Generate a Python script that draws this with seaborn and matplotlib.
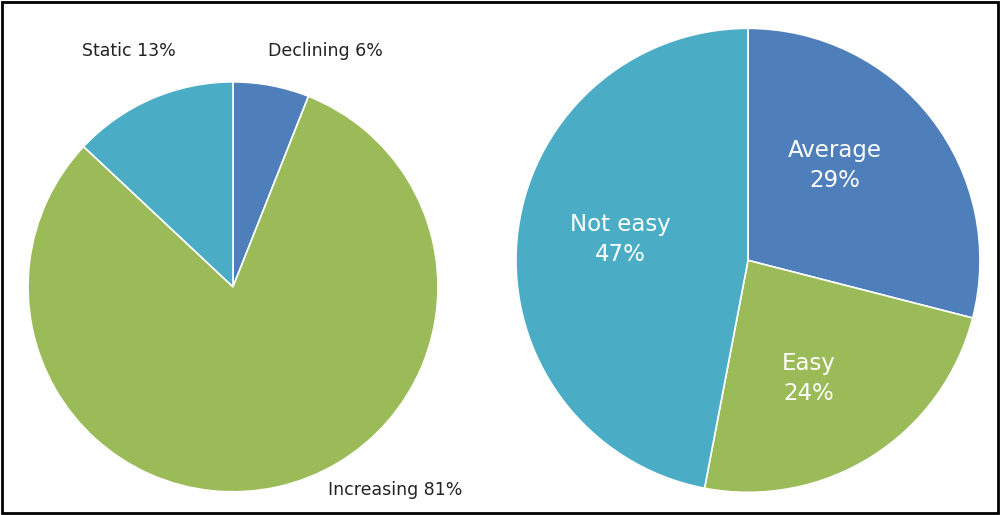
import matplotlib
matplotlib.use("Agg")
import matplotlib.pyplot as plt
import seaborn as sns

# left pie: trend
trend_labels = ["Declining", "Increasing", "Static"]
trend_values = [6, 81, 13]
# right pie: ease
ease_labels = ["Average", "Easy", "Not easy"]
ease_values = [29, 24, 47]

sns.set_theme(style="white")
colors = sns.color_palette(["#4F7FBA", "#9BBB59", "#4BACC6"])

fig = plt.figure(figsize=(10, 5.15), dpi=100)
fig.patches.append(plt.Rectangle((0.002, 0.003), 0.996, 0.994, transform=fig.transFigure,
                                 fill=False, edgecolor="black", linewidth=2))

ax1 = fig.add_axes([0.028, 0.045, 0.41, 0.796])
ax1.pie(trend_values, colors=colors, startangle=90, counterclock=False, radius=1,
        wedgeprops=dict(edgecolor="white", linewidth=1.2))
ax1.set_xlim(-1, 1)
ax1.set_ylim(-1, 1)
ax1.set_aspect("equal")
left_pos = [(0.45, 1.15), (0.79, -0.99), (-0.51, 1.15)]
for (x, y), lab, v in zip(left_pos, trend_labels, trend_values):
    ax1.text(x, y, f"{lab} {v}%", ha="center", va="center", fontsize=12.5,
             color="#222222", clip_on=False)

ax2 = fig.add_axes([0.516, 0.044, 0.464, 0.901])
ax2.pie(ease_values, colors=colors, startangle=90, counterclock=False, radius=1,
        wedgeprops=dict(edgecolor="white", linewidth=1.2))
ax2.set_xlim(-1, 1)
ax2.set_ylim(-1, 1)
ax2.set_aspect("equal")
right_pos = [(0.375, 0.41), (0.26, -0.51), (-0.55, 0.09)]
for (x, y), lab, v in zip(right_pos, ease_labels, ease_values):
    ax2.text(x, y, f"{lab}\n{v}%", ha="center", va="center", fontsize=16.5,
             color="white", linespacing=1.4)

fig.savefig("out.png", dpi=100)
